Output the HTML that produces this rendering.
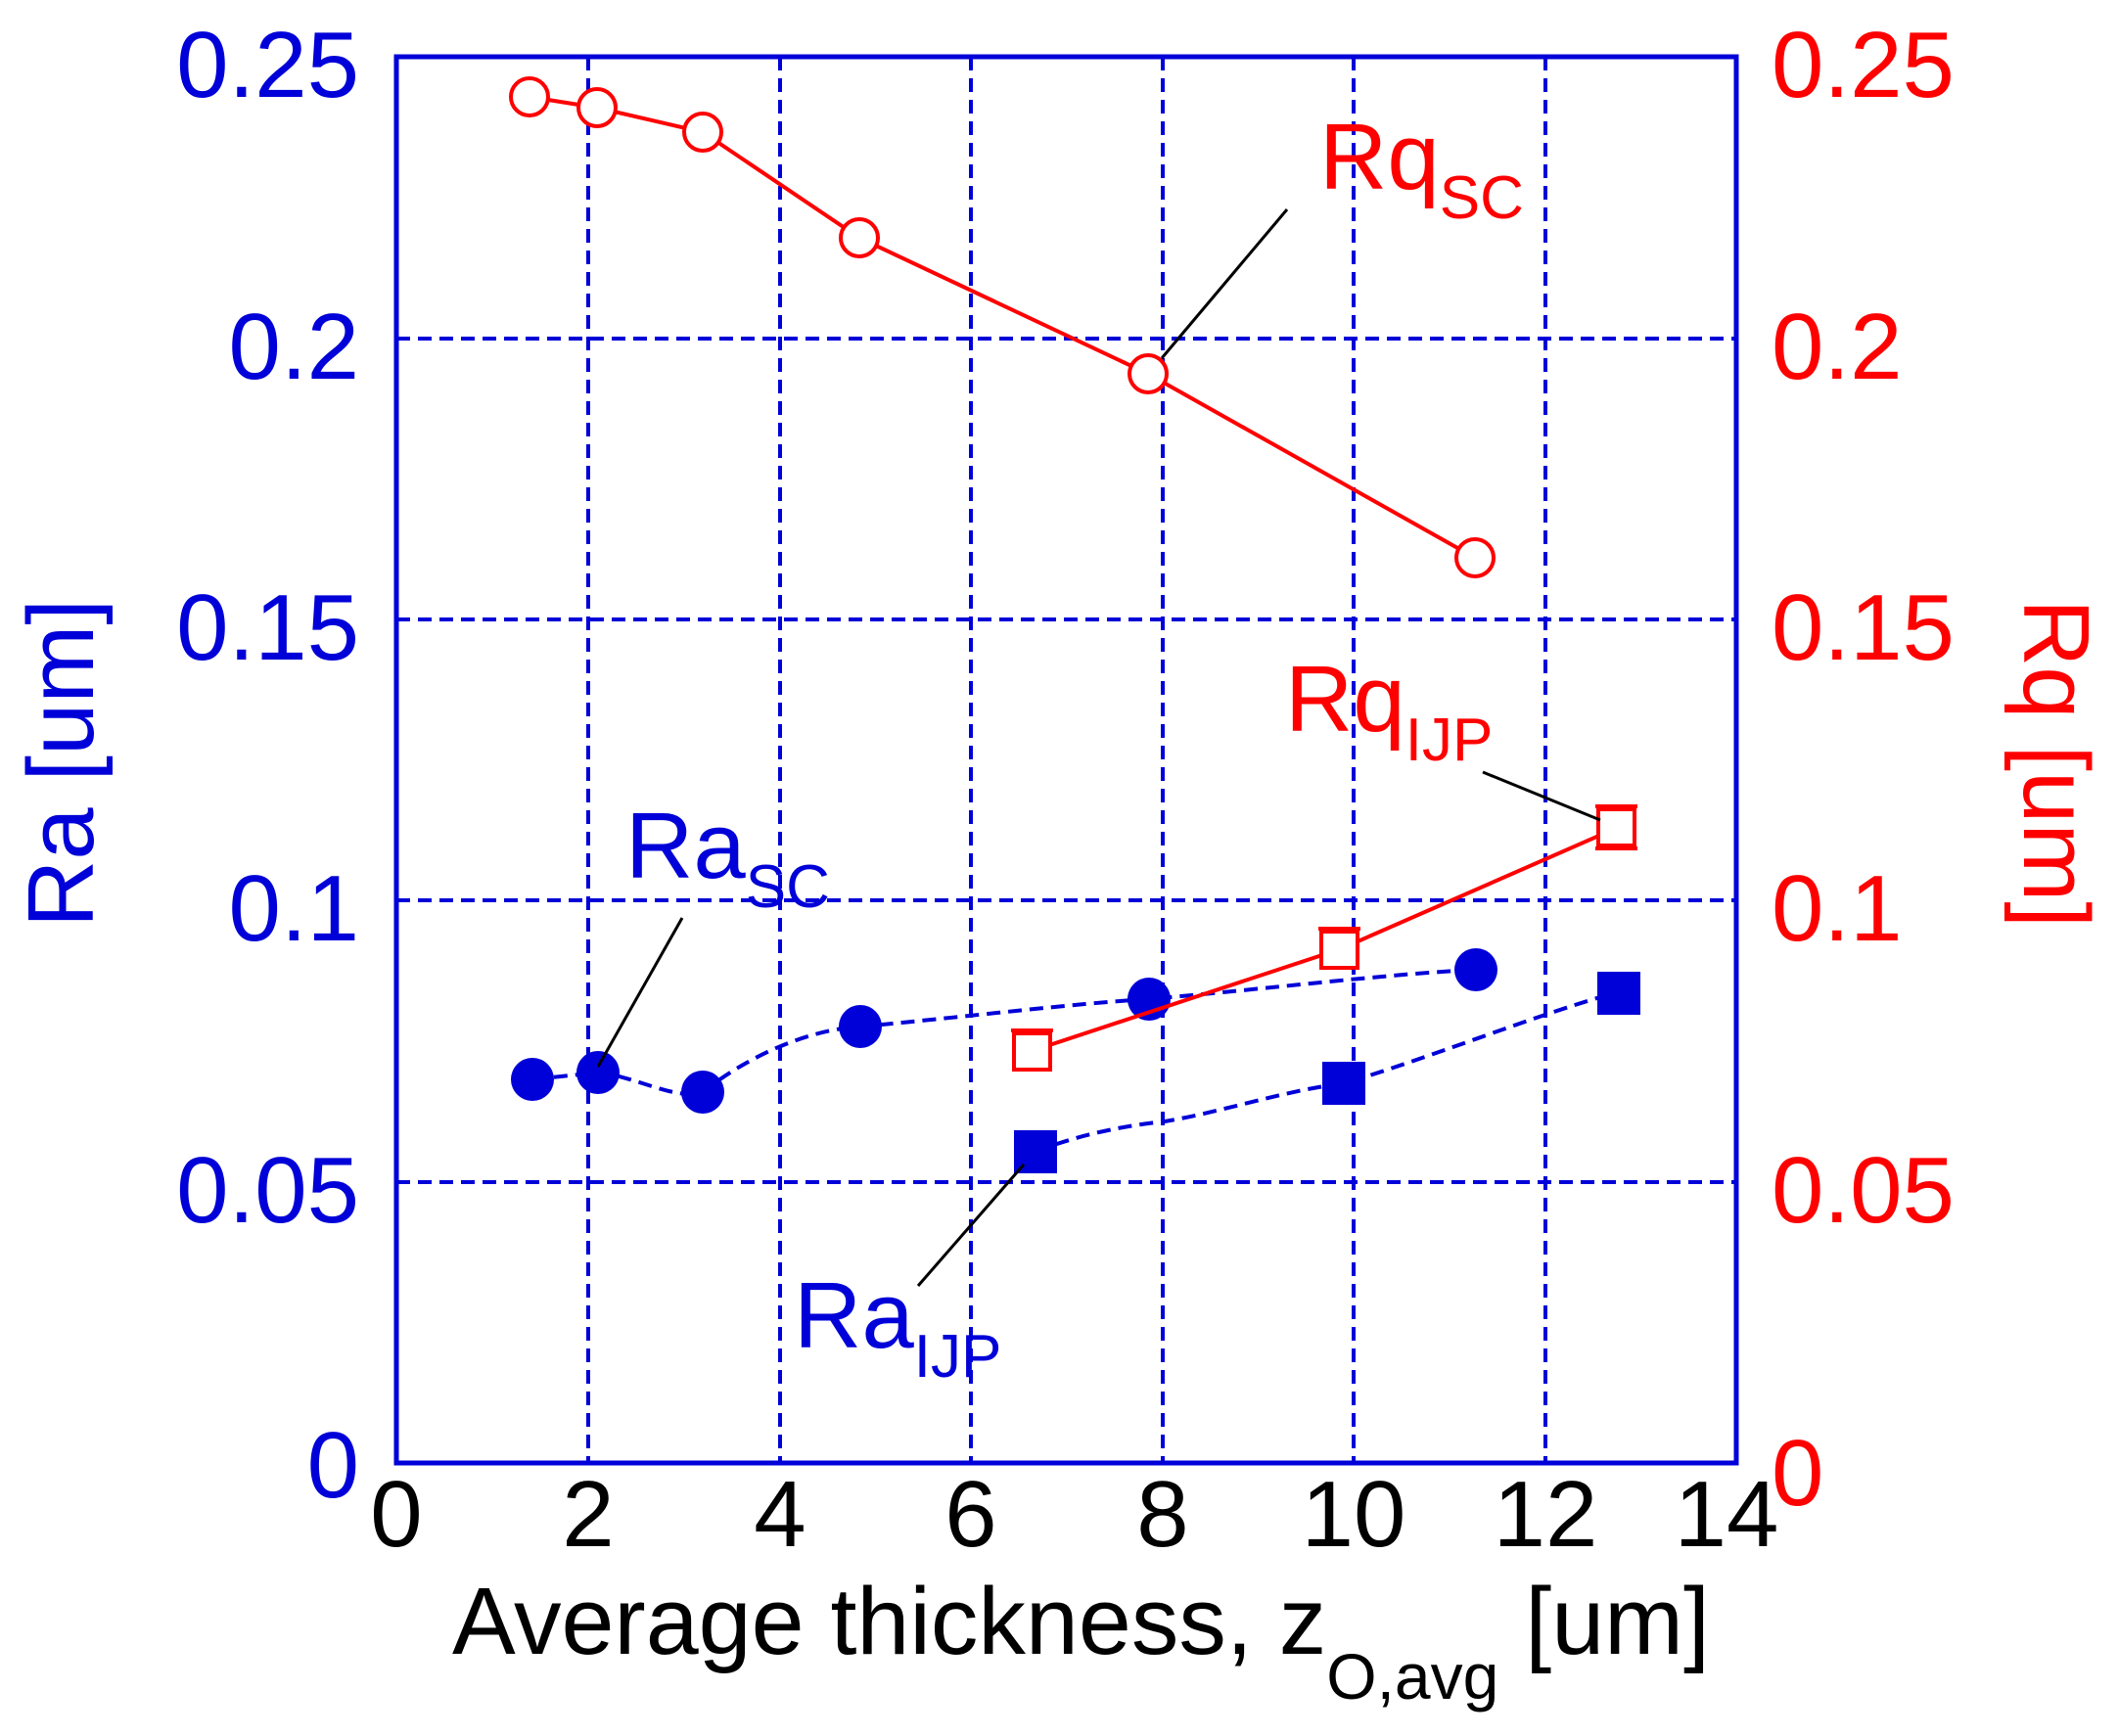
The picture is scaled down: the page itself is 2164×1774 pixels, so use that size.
<!DOCTYPE html>
<html><head><meta charset="utf-8"><style>html,body{margin:0;padding:0;background:#fff}svg{display:block}</style></head><body>
<svg width="2164" height="1774" viewBox="0 0 2164 1774" xmlns="http://www.w3.org/2000/svg" font-family="Liberation Sans, Arial, sans-serif">
<rect width="2164" height="1774" fill="#fff"/>
<g stroke="#0000d8" stroke-width="4" stroke-dasharray="14,8" fill="none">
<line x1="601" y1="58" x2="601" y2="1495"/><line x1="797" y1="58" x2="797" y2="1495"/><line x1="992" y1="58" x2="992" y2="1495"/>
<line x1="1188" y1="58" x2="1188" y2="1495"/><line x1="1383" y1="58" x2="1383" y2="1495"/><line x1="1579" y1="58" x2="1579" y2="1495"/>
<line x1="405" y1="346" x2="1774" y2="346"/><line x1="405" y1="633" x2="1774" y2="633"/><line x1="405" y1="920" x2="1774" y2="920"/><line x1="405" y1="1208" x2="1774" y2="1208"/>
</g>
<rect x="405" y="58" width="1369" height="1437" fill="none" stroke="#0000d8" stroke-width="5"/>
<g font-size="96" fill="#0000d8" text-anchor="end">
<text x="367" y="99">0.25</text><text x="367" y="387">0.2</text><text x="367" y="674">0.15</text><text x="367" y="961">0.1</text><text x="367" y="1249">0.05</text><text x="367" y="1530">0</text>
</g>
<g font-size="96" fill="#ff0000">
<text x="1810" y="99">0.25</text><text x="1810" y="387">0.2</text><text x="1810" y="674">0.15</text><text x="1810" y="961">0.1</text><text x="1810" y="1249">0.05</text><text x="1810" y="1538">0</text>
</g>
<g font-size="96" fill="#000" text-anchor="middle">
<text x="405" y="1580">0</text><text x="601" y="1580">2</text><text x="797" y="1580">4</text><text x="992" y="1580">6</text><text x="1188" y="1580">8</text><text x="1383" y="1580">10</text><text x="1579" y="1580">12</text><text x="1764" y="1580">14</text>
</g>
<text x="462" y="1690" font-size="97" fill="#000">Average thickness, z<tspan font-size="66" dy="46">O,avg</tspan><tspan dy="-46"> [um]</tspan></text>
<text transform="translate(95,780) rotate(-90)" font-size="96" fill="#0000d8" text-anchor="middle">Ra [um]</text>
<text transform="translate(2068,780) rotate(90)" font-size="96" fill="#ff0000" text-anchor="middle">Rq [um]</text>
<path d="M544,1103 L611,1096 C650,1100 690,1125 718,1116 C770,1075 830,1052 879,1049 C980,1040 1100,1025 1174,1021 C1300,1010 1420,995 1508,991" fill="none" stroke="#0000d8" stroke-width="4" stroke-dasharray="14,8"/>
<path d="M1058,1177 C1100,1160 1150,1150 1190,1146 C1250,1136 1310,1115 1373,1107 C1450,1085 1580,1033 1653,1014" fill="none" stroke="#0000d8" stroke-width="4" stroke-dasharray="14,8"/>
<g fill="#0000d8">
<circle cx="544" cy="1103" r="22"/><circle cx="611" cy="1096" r="22"/><circle cx="718" cy="1116" r="22"/><circle cx="879" cy="1049" r="22"/><circle cx="1174" cy="1021" r="22"/><circle cx="1508" cy="991" r="22"/>
<rect x="1036" y="1155" width="44" height="44"/><rect x="1351" y="1085" width="44" height="44"/><rect x="1632" y="993" width="44" height="44"/>
</g>
<polyline points="541,99 610,110 718,135 878,243 1173,382 1507,570" fill="none" stroke="#ff0000" stroke-width="4"/>
<polyline points="1054,1074 1369,970 1652,846" fill="none" stroke="#ff0000" stroke-width="4"/>
<g fill="#fff" stroke="#ff0000" stroke-width="4">
<circle cx="541" cy="99" r="19"/><circle cx="610" cy="110" r="19"/><circle cx="718" cy="135" r="19"/><circle cx="878" cy="243" r="19"/><circle cx="1173" cy="382" r="19"/><circle cx="1507" cy="570" r="19"/>
<rect x="1036" y="1056" width="37" height="37"/><rect x="1350" y="952" width="37" height="37"/><rect x="1633" y="827" width="37" height="37"/>
</g>
<g stroke="#ff0000" stroke-width="4">
<line x1="1033" y1="1053" x2="1076" y2="1053"/><line x1="1347" y1="949" x2="1390" y2="949"/><line x1="1630" y1="824" x2="1673" y2="824"/><line x1="1630" y1="867" x2="1673" y2="867"/>
</g>
<g stroke="#000" stroke-width="3">
<line x1="1315" y1="214" x2="1187" y2="366"/><line x1="1515" y1="789" x2="1635" y2="838"/><line x1="697" y1="938" x2="611" y2="1090"/><line x1="938" y1="1314" x2="1046" y2="1190"/>
</g>
<g font-size="96">
<text x="1348" y="193" fill="#ff0000">Rq<tspan font-size="62" dy="30">SC</tspan></text>
<text x="1313" y="747" fill="#ff0000">Rq<tspan font-size="62" dy="30">IJP</tspan></text>
<text x="639" y="897" fill="#0000d8">Ra<tspan font-size="62" dy="30">SC</tspan></text>
<text x="811" y="1377" fill="#0000d8">Ra<tspan font-size="62" dy="30">IJP</tspan></text>
</g>
</svg>
</body></html>
